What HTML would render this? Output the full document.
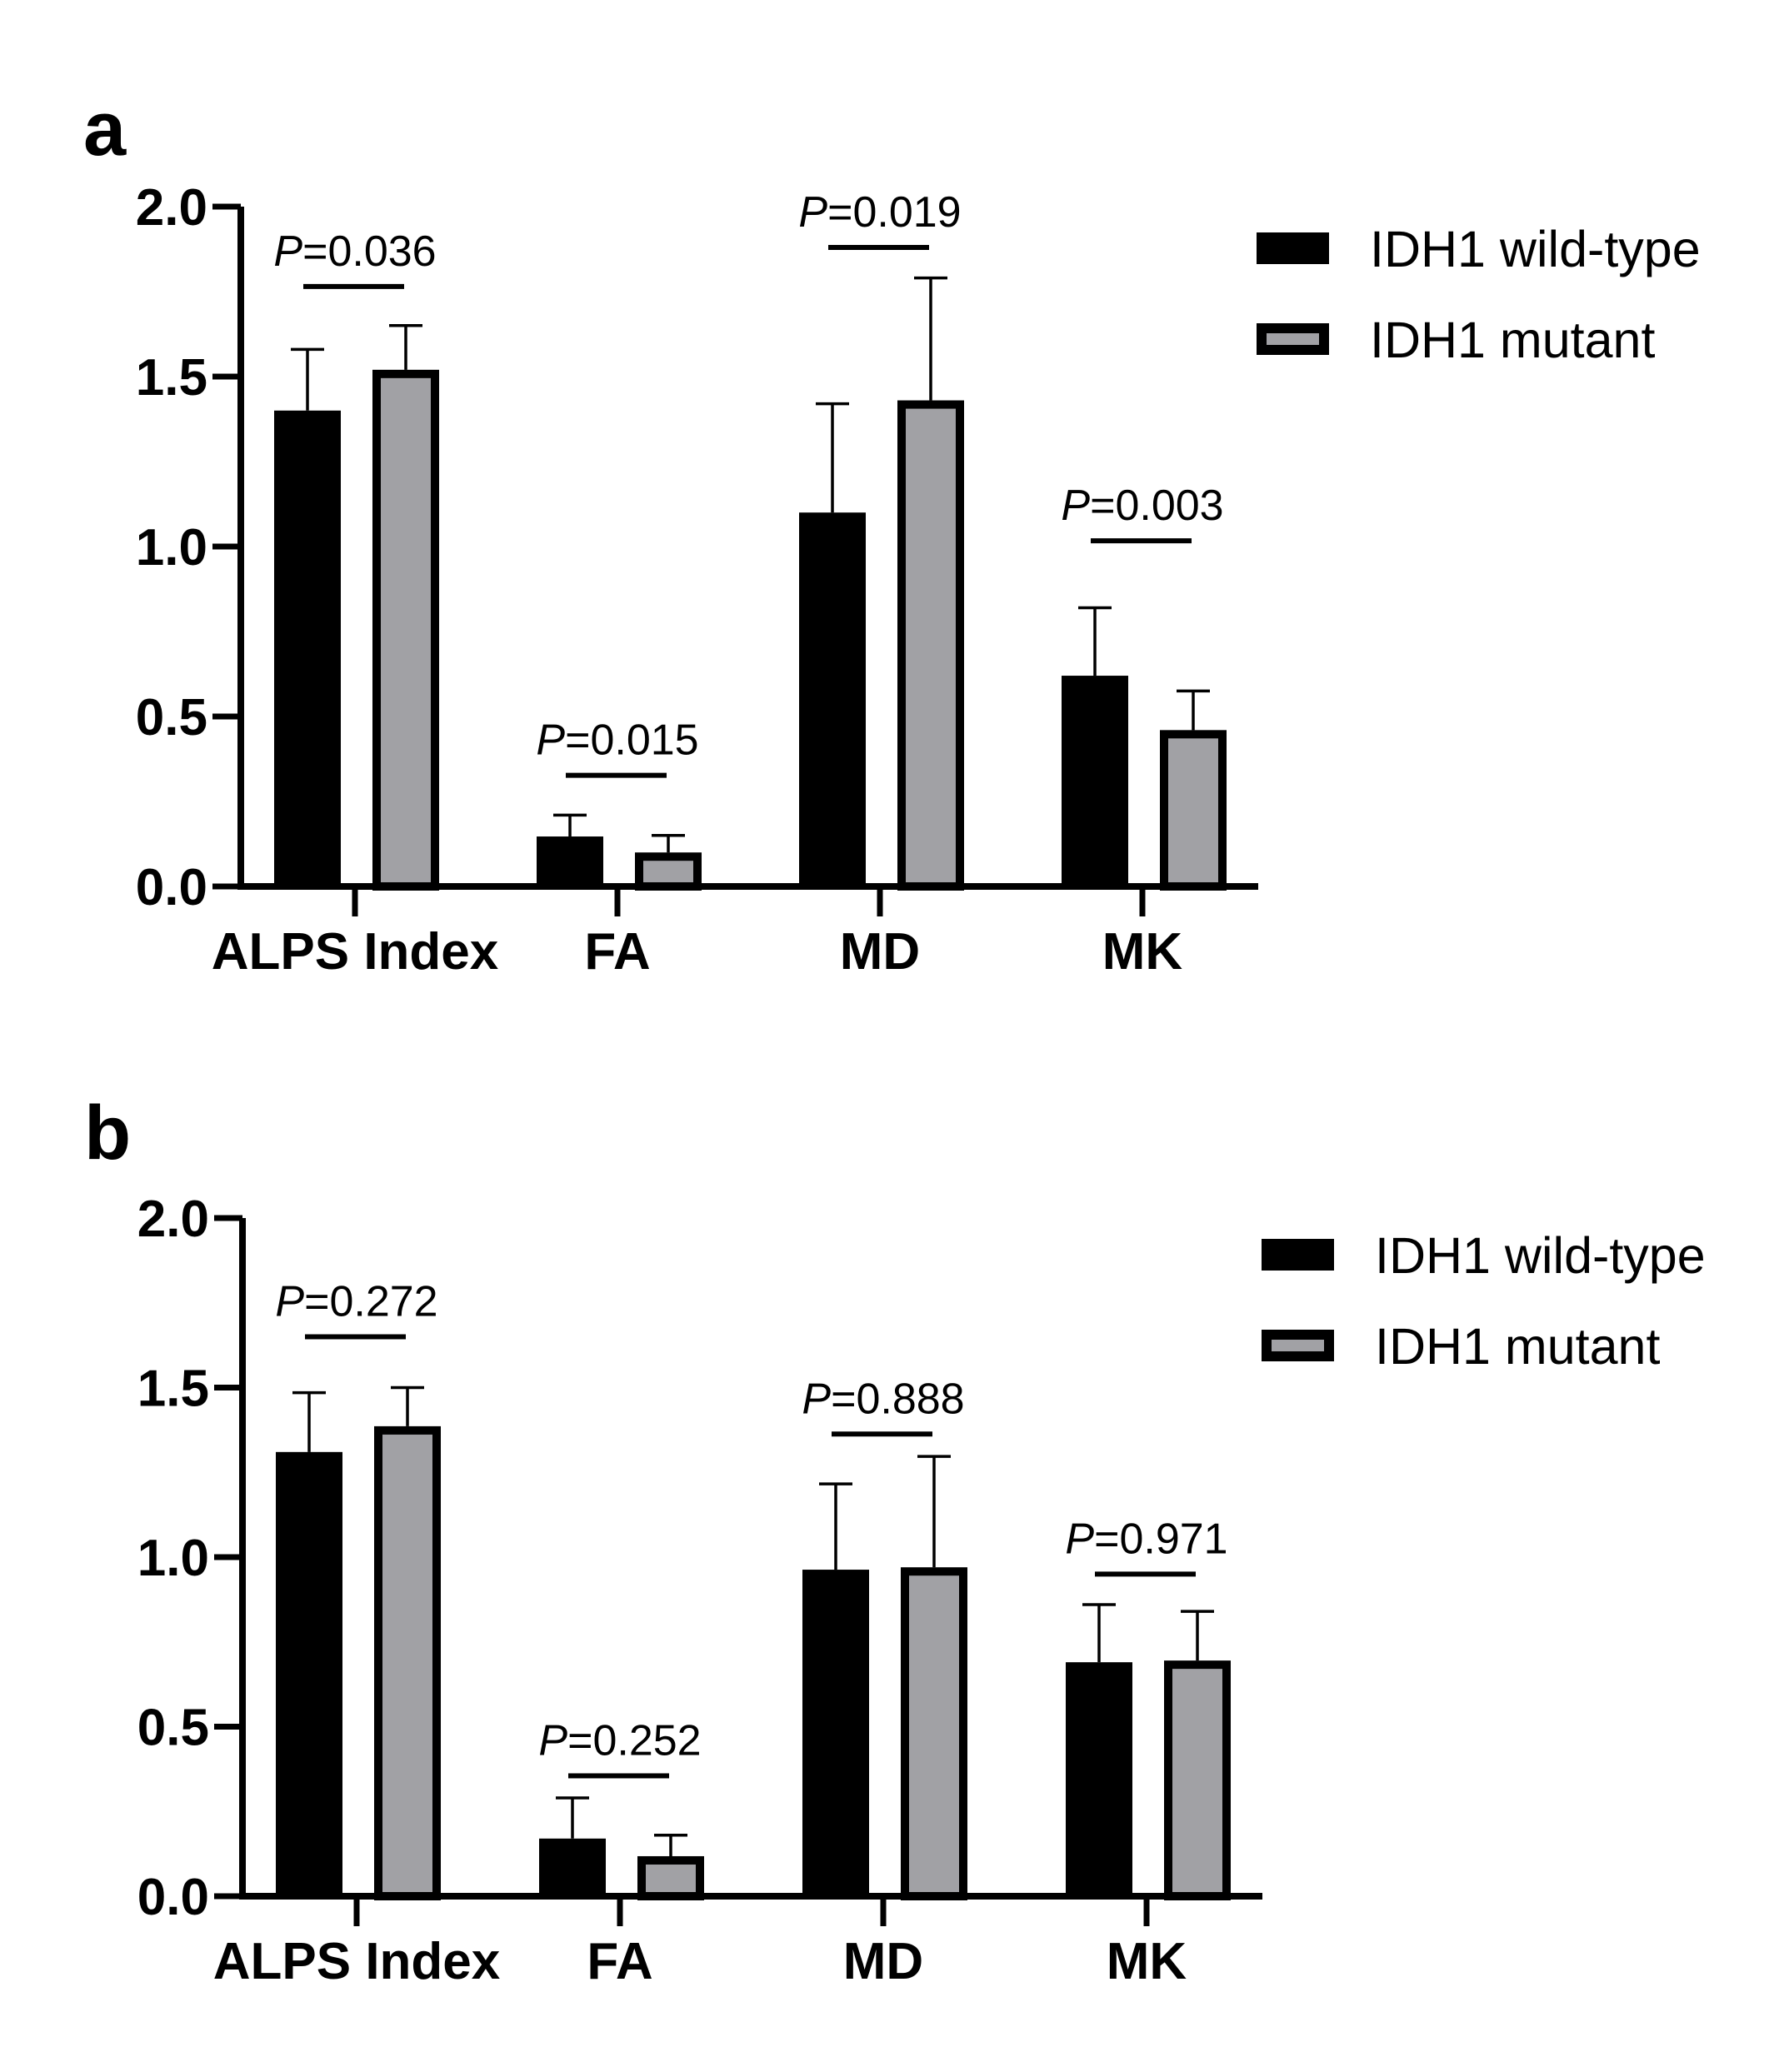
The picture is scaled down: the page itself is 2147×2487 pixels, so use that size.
<!DOCTYPE html>
<html><head><meta charset="utf-8">
<style>html,body{margin:0;padding:0;background:#fff}svg{display:block}text{font-family:"Liberation Sans",Arial,sans-serif}</style>
</head><body>
<svg id="chart" width="2147" height="2487" viewBox="0 0 2147 2487" xmlns="http://www.w3.org/2000/svg"></svg>
<script>
const categories = ["ALPS Index", "FA", "MD", "MK"];
const yTicks = [0, 0.5, 1.0, 1.5, 2.0];
const yTickLabels = ["0.0", "0.5", "1.0", "1.5", "2.0"];
const seriesNames = ["IDH1 wild-type", "IDH1 mutant"];
const aWild = [1.40, 0.147, 1.10, 0.62];
const aWildErr = [1.58, 0.21, 1.42, 0.82];
const aMut = [1.52, 0.10, 1.43, 0.46];
const aMutErr = [1.65, 0.15, 1.79, 0.575];
const aSig = [1.765, 0.327, 1.88, 1.017];
const aP = ["0.036", "0.015", "0.019", "0.003"];
const bWild = [1.31, 0.17, 0.963, 0.69];
const bWildErr = [1.485, 0.29, 1.216, 0.86];
const bMut = [1.386, 0.118, 0.97, 0.695];
const bMutErr = [1.50, 0.18, 1.297, 0.84];
const bSig = [1.65, 0.355, 1.363, 0.95];
const bP = ["0.272", "0.252", "0.888", "0.971"];

const NS = "http://www.w3.org/2000/svg";
const svg = document.getElementById("chart");
function mk(tag, attrs, parent, text) {
  const e = document.createElementNS(NS, tag);
  for (const k in attrs) e.setAttribute(k, attrs[k]);
  if (text !== undefined) e.textContent = text;
  (parent || svg).appendChild(e);
  return e;
}

function panel(cfg) {
  const g = mk("g", {});
  
  
  const y = v => cfg.y0 - v * cfg.unit;
  const x = i => cfg.x0 + i * cfg.step;
  const letter = mk("text", {x: cfg.letterX, y: cfg.letterY, "font-size": 92, "font-weight": "bold"}, g, cfg.letter);
  
  
  for (let i = 0; i < categories.length; i++) {
    const c = x(i);
    const wt = mk("rect", {x: c - 97, y: y(cfg.wild[i]), width: 80, height: y(0) - y(cfg.wild[i]), fill: "#000"}, g);
    
    
    const e1 = mk("path", {d: `M${c-57} ${y(cfg.wild[i])}V${y(cfg.wildErr[i])}M${c-77} ${y(cfg.wildErr[i])}H${c-37}`, stroke: "#000", "stroke-width": 3.5, fill: "none"}, g);
    
    
    const top = y(cfg.mut[i]);
    const mt = mk("rect", {x: c + 26, y: top + 5, width: 70, height: y(0) - top - 5, fill: "#a1a1a5", stroke: "#000", "stroke-width": 10}, g);
    
    
    const e2 = mk("path", {d: `M${c+61} ${top}V${y(cfg.mutErr[i])}M${c+41} ${y(cfg.mutErr[i])}H${c+81}`, stroke: "#000", "stroke-width": 3.5, fill: "none"}, g);
    
    
    const sl = mk("line", {x1: c - 62, x2: c + 59, y1: y(cfg.sig[i]), y2: y(cfg.sig[i]), stroke: "#000", "stroke-width": 6}, g);
    
    
    const pt = mk("text", {x: c, y: y(cfg.sig[i]) - 25, "font-size": 52, "text-anchor": "middle"}, g);
    
    
    mk("tspan", {"font-style": "italic"}, pt, "P");
    mk("tspan", {}, pt, "=" + cfg.p[i]);
    const tk = mk("line", {x1: c, x2: c, y1: y(0), y2: y(0) + 36, stroke: "#000", "stroke-width": 7}, g);
    
    
    const cl = mk("text", {x: c, y: y(0) + 99, "font-size": 62, "font-weight": "bold", "text-anchor": "middle"}, g, categories[i]);
    
    
  }
  const ax = mk("path", {d: `M${cfg.axisX} ${y(2)}V${y(0)}H${cfg.axisEnd}`, stroke: "#000", "stroke-width": 8, fill: "none"}, g);
  
  
  for (let j = 0; j < yTicks.length; j++) {
    const ty = y(yTicks[j]);
    const t = mk("line", {x1: cfg.axisX - 34, x2: cfg.axisX, y1: ty, y2: ty, stroke: "#000", "stroke-width": 7}, g);
    
    
    const tl = mk("text", {x: cfg.axisX - 40, y: ty + 22, "font-size": 62, "font-weight": "bold", "text-anchor": "end"}, g, yTickLabels[j]);
    
    
  }
  const lg = mk("g", {}, g);
  
  
  const r1 = mk("rect", {x: cfg.legX, y: cfg.legY, width: 87, height: 38, fill: "#000"}, lg);
  
  
  const t1 = mk("text", {x: cfg.legX + 136, y: cfg.legY + 41, "font-size": 61}, lg, seriesNames[0]);
  
  
  const r2 = mk("rect", {x: cfg.legX + 6, y: cfg.legY + 115, width: 75, height: 26, fill: "#a1a1a5", stroke: "#000", "stroke-width": 12}, lg);
  
  
  const t2 = mk("text", {x: cfg.legX + 136, y: cfg.legY + 150, "font-size": 61}, lg, seriesNames[1]);
  
  
}

panel({name: "panel-a", letter: "a", letterX: 100, letterY: 186, y0: 1064, unit: 408, x0: 426, step: 315, axisX: 289, axisEnd: 1510,
  wild: aWild, wildErr: aWildErr, mut: aMut, mutErr: aMutErr, sig: aSig, p: aP, legX: 1508, legY: 279});
panel({name: "panel-b", letter: "b", letterX: 101, letterY: 1391, y0: 2276, unit: 407, x0: 428, step: 316, axisX: 291, axisEnd: 1515,
  wild: bWild, wildErr: bWildErr, mut: bMut, mutErr: bMutErr, sig: bSig, p: bP, legX: 1514, legY: 1487});
</script>
</body></html>
